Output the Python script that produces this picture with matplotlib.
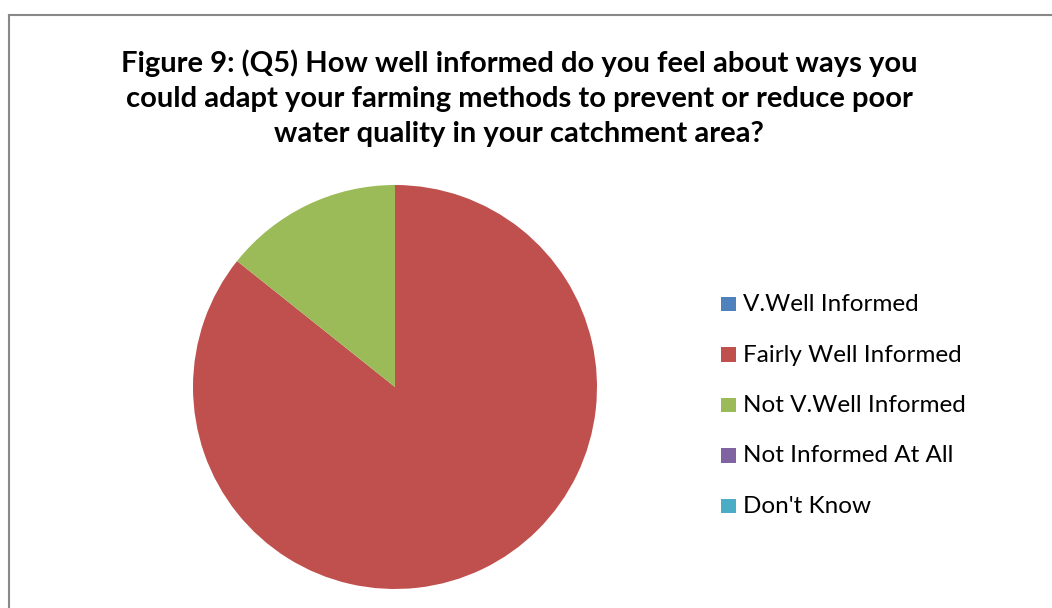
import matplotlib.pyplot as plt
from matplotlib.patches import Rectangle

# survey responses for Q5
categories = ["V.Well Informed", "Fairly Well Informed", "Not V.Well Informed",
              "Not Informed At All", "Don't Know"]
counts = [0, 6, 1, 0, 0]
colors = ["#4f81bd", "#c0504d", "#9bbb59", "#8064a2", "#4bacc6"]

title_lines = [
    "Figure 9: (Q5) How well informed do you feel about ways you",
    "could adapt your farming methods to prevent or reduce poor",
    "water quality in your catchment area?",
]

W, H = 1052, 608
fig = plt.figure(figsize=(W / 100, H / 100), dpi=100)
fig.patch.set_facecolor("white")

# chart-area border, running off the right and bottom edges
fig.add_artist(plt.Line2D([9.5 / W, 9.5 / W], [0, 1 - 15 / H], color="#888888", lw=1.5))
fig.add_artist(plt.Line2D([9.5 / W, 1], [1 - 15 / H, 1 - 15 / H], color="#888888", lw=1.5))

# title, one line at a time (baselines 35 px apart)
for i, line in enumerate(title_lines):
    fig.text(519 / W, 1 - (72 + 35 * i) / H, line, ha="center", va="baseline",
             fontsize=21, fontweight="bold", family="Lato", color="black")

# pie
ax = fig.add_axes([193 / W, 1 - 589 / H, 404 / W, 404 / H])
ax.pie(counts, colors=colors, startangle=90, counterclock=False, radius=1,
       wedgeprops=dict(linewidth=0))
ax.set_xlim(-1, 1)
ax.set_ylim(-1, 1)
ax.set_aspect("equal")
ax.axis("off")

# legend
for i, (lab, col) in enumerate(zip(categories, colors)):
    base = 311 + 50.5 * i
    fig.add_artist(Rectangle((721 / W, 1 - base / H), 14.5 / W, 14.5 / H,
                             transform=fig.transFigure, color=col, lw=0))
    fig.text(743 / W, 1 - base / H, lab, ha="left", va="baseline",
             fontsize=17.5, family="Lato", color="black")

fig.savefig("out.png", dpi=100)
